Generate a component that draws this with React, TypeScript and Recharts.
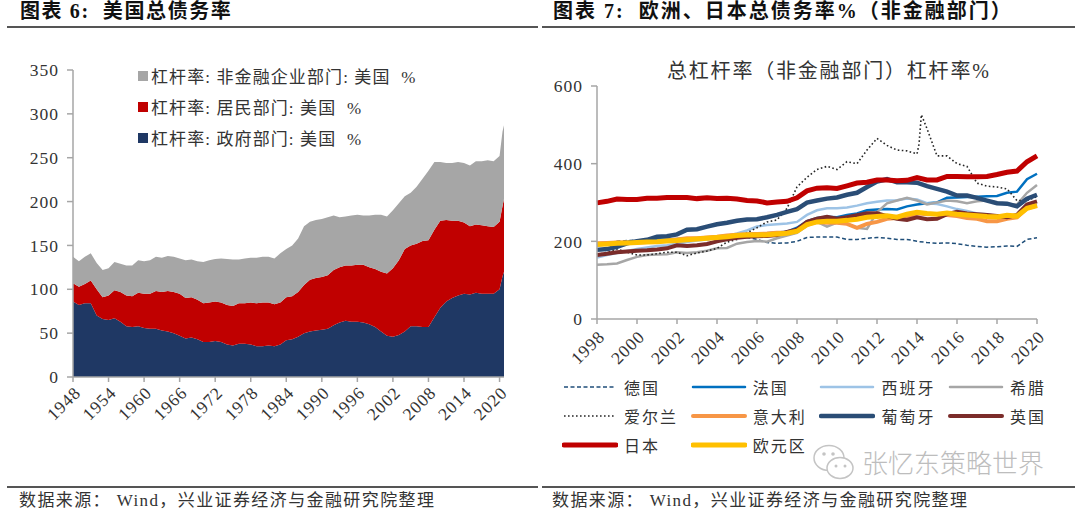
import { AreaChart, Area, LineChart, Line, XAxis, YAxis, Legend } from 'recharts'

const SERIF = '"Liberation Serif", "Noto Sans CJK SC", serif'
const AXIS_GREY = '#A6A6A6'

// 图表 6
const usYears = [
  1948, 1949, 1950, 1951, 1952, 1953, 1954, 1955, 1956, 1957, 1958, 1959, 1960, 1961, 1962, 1963, 1964, 1965, 1966,
  1967, 1968, 1969, 1970, 1971, 1972, 1973, 1974, 1975, 1976, 1977, 1978, 1979, 1980, 1981, 1982, 1983, 1984, 1985,
  1986, 1987, 1988, 1989, 1990, 1991, 1992, 1993, 1994, 1995, 1996, 1997, 1998, 1999, 2000, 2001, 2002, 2003, 2004,
  2005, 2006, 2007, 2008, 2009, 2010, 2011, 2012, 2013, 2014, 2015, 2016, 2017, 2018, 2019, 2020, 2020.5, 2020.75,
]
const usGov = [
  86, 82, 84, 84, 70, 66, 65, 67, 63, 58, 57, 58, 56, 55, 55, 53, 52, 50, 47,
  44, 45, 43, 40, 40, 41, 40, 37, 36, 38, 38, 37, 35, 35, 36, 35, 37, 42, 43,
  46, 50, 52, 53, 54, 55, 59, 62, 64, 63, 63, 62, 60, 57, 52, 47, 46, 48, 52,
  58, 58, 57, 57, 68, 79, 86, 90, 93, 95, 94, 96, 95, 95, 95, 100, 115, 120,
]
const usHousehold = [
  21, 21, 22, 26, 30, 25, 28, 32, 34, 35, 35, 38, 39, 40, 43, 44, 46, 47, 48,
  46, 46, 45, 44, 45, 45, 45, 45, 45, 46, 46, 48, 49, 50, 49, 48, 48, 49, 49,
  51, 55, 59, 60, 60, 61, 63, 63, 63, 64, 65, 66, 65, 66, 68, 71, 78, 85, 94,
  92, 94, 98, 99, 100, 99, 93, 88, 85, 81, 78, 78, 78, 77, 76, 77, 80, 83,
]
const usCorp = [
  30, 29, 31, 31, 30, 31, 31, 32, 32, 34, 35, 37, 37, 38, 39, 39, 40, 40, 40,
  43, 43, 44, 47, 48, 48.5, 50, 52.5, 53, 50, 51, 51, 52, 52, 52, 52, 56, 55, 58,
  61, 67, 66, 66, 66, 66, 62, 57, 56, 57, 57, 56, 59, 62, 65, 65, 66, 65, 60,
  60, 65, 71, 79, 77, 67, 65, 66, 67, 68, 69, 72, 73, 75, 75, 75, 85, 84,
]
const usYTicks = [0, 50, 100, 150, 200, 250, 300, 350]
const usXTicks = [1948, 1954, 1960, 1966, 1972, 1978, 1984, 1990, 1996, 2002, 2008, 2014, 2020]
const usLegendNames = ['杠杆率: 非金融企业部门: 美国  %', '杠杆率: 居民部门: 美国  %', '杠杆率: 政府部门: 美国  %']

// 图表 7
const euYears = [
  1998, 1998.5, 1999, 1999.5, 2000, 2000.5, 2001, 2001.5, 2002, 2002.5, 2003, 2003.5, 2004, 2004.5, 2005, 2005.5,
  2006, 2006.5, 2007, 2007.5, 2008, 2008.5, 2009, 2009.5, 2010, 2010.5, 2011, 2011.5, 2012, 2012.5, 2013, 2013.5,
  2014, 2014.5, 2015, 2015.5, 2016, 2016.5, 2017, 2017.5, 2018, 2018.5, 2019, 2019.5, 2020,
]
const germany = [
  195, 197, 200, 202, 203, 203, 203, 203, 202, 203, 204, 205, 206, 207, 208, 210,
  205, 197, 195, 196, 200, 210, 211, 211, 211, 205, 205, 208, 210, 208, 205, 205,
  200, 197, 195, 196, 194, 190, 187, 185, 186, 188, 187, 205, 209,
]
const france = [
  190, 192, 195, 198, 200, 202, 204, 205, 206, 207, 208, 210, 212, 214, 217, 219,
  220, 221, 223, 225, 235, 252, 260, 263, 262, 268, 272, 280, 282, 283, 282, 290,
  295, 298, 300, 312, 313, 314, 315, 316, 317, 325, 328, 360, 374,
]
const spain = [
  158, 165, 170, 175, 180, 184, 188, 190, 194, 198, 202, 205, 209, 214, 220, 228,
  238, 242, 244, 246, 250, 268, 280, 285, 285, 287, 292, 298, 302, 305, 306, 310,
  308, 298, 296, 290, 283, 278, 272, 270, 265, 265, 262, 285, 295,
]
const greece = [
  140, 141, 143, 152, 160, 165, 166, 167, 172, 170, 172, 176, 182, 183, 194, 198,
  201, 199, 208, 215, 222, 240, 250, 238, 248, 245, 235, 232, 275, 298, 305, 312,
  305, 295, 300, 305, 303, 298, 303, 305, 300, 295, 295, 325, 345,
]
const irelandYears = [
  1998, 1998.5, 1999, 1999.5, 2000, 2000.5, 2001, 2001.5, 2002, 2002.5, 2003, 2003.5, 2004, 2004.5, 2005, 2005.5,
  2006, 2006.5, 2007, 2007.5, 2008, 2008.5, 2009, 2009.5, 2010, 2010.5, 2011, 2011.5, 2012, 2012.5, 2013, 2013.5,
  2014, 2014.1, 2014.22, 2014.5, 2015, 2015.5, 2016, 2016.5, 2017, 2017.5, 2018, 2018.5, 2019, 2019.5, 2020,
]
const ireland = [
  165, 172, 180, 172, 165, 165, 168, 172, 172, 163, 170, 175, 182, 198, 205, 222,
  235, 250, 255, 285, 340, 365, 385, 393, 385, 405, 400, 435, 465, 447, 435, 433,
  425, 450, 526, 490, 420, 420, 400, 393, 350, 342, 340, 335, 305, 305, 315,
]
const italy = [
  195, 196, 197, 197, 197, 198, 199, 202, 205, 208, 208, 210, 212, 215, 217, 218,
  219, 220, 222, 223, 228, 243, 250, 248, 248, 245, 235, 245, 250, 258, 260, 262,
  272, 270, 270, 268, 265, 260, 258, 252, 252, 258, 262, 285, 292,
]
const portugal = [
  178, 180, 186, 195, 200, 204, 212, 213, 218, 230, 231, 238, 244, 248, 253, 256,
  257, 262, 268, 276, 283, 300, 305, 310, 313, 320, 325, 340, 354, 360, 352, 352,
  351, 342, 335, 328, 318, 318, 312, 305, 298, 297, 290, 310, 320,
]
const uk = [
  165, 168, 172, 174, 176, 177, 179, 182, 190, 188, 190, 193, 200, 205, 209, 212,
  213, 214, 216, 224, 230, 250, 258, 263, 258, 262, 267, 272, 272, 265, 258, 255,
  262, 257, 258, 270, 276, 272, 270, 268, 265, 262, 268, 295, 303,
]
const japan = [
  299, 303, 309, 308, 308, 311, 311, 313, 313, 313, 310, 312, 310, 311, 309, 305,
  304, 299, 301, 303, 312, 330, 337, 338, 336, 343, 350, 352, 358, 358, 356, 357,
  364, 358, 358, 367, 367, 366, 366, 367, 372, 378, 381, 405, 420,
]
const euroArea = [
  192, 193, 195, 196, 197, 198, 199, 201, 202, 204, 206, 208, 210, 212, 215, 216,
  216, 217, 219, 221, 226, 243, 250, 252, 252, 254, 257, 262, 264, 266, 262, 270,
  275, 272, 270, 273, 270, 268, 266, 264, 263, 267, 265, 285, 292,
]
const euYTicks = [0, 200, 400, 600]
const euXTicks = [1998, 2000, 2002, 2004, 2006, 2008, 2010, 2012, 2014, 2016, 2018, 2020]
const euNames = ['德国', '法国', '西班牙', '希腊', '爱尔兰', '意大利', '葡萄牙', '英国', '日本', '欧元区']

const usRows = usYears.map((year, i) => ({ year, gov: usGov[i], household: usHousehold[i], corp: usCorp[i] }))
const euRows = euYears.map((year, i) => ({
  year,
  germany: germany[i],
  france: france[i],
  spain: spain[i],
  greece: greece[i],
  italy: italy[i],
  portugal: portugal[i],
  uk: uk[i],
  japan: japan[i],
  euroArea: euroArea[i],
}))
const irelandRows = irelandYears.map((year, i) => ({ year, ireland: ireland[i] }))

const SOURCE_TEXT = '数据来源\uFF1A Wind\uFF0C兴业证券经济与金融研究院整理'

const tickStyle = { fontFamily: SERIF, fontSize: 17.5, fill: '#333', letterSpacing: 1 }

const UsLegend = ({ payload }: any) => {
  const items = [...(payload || [])].sort((a, b) => usLegendNames.indexOf(a.value) - usLegendNames.indexOf(b.value))
  return (
    <div>
      {items.map((entry: any) => (
        <div key={entry.value} style={{ display: 'flex', alignItems: 'center', height: 31, whiteSpace: 'pre' }}>
          <span style={{ width: 10, height: 10, background: entry.color, marginRight: 3 }} />
          <span style={{ fontFamily: SERIF, fontSize: 17, letterSpacing: 1.1, color: '#333' }}>{entry.value}</span>
        </div>
      ))}
    </div>
  )
}

const EuLegend = ({ payload }: any) => {
  const items = [...(payload || [])].sort((a, b) => euNames.indexOf(a.value) - euNames.indexOf(b.value))
  return (
    <div style={{ display: 'grid', gridTemplateColumns: 'repeat(4, 128.7px)', gridAutoRows: 29 }}>
      {items.map((entry: any) => (
        <div key={entry.value} style={{ display: 'flex', alignItems: 'center' }}>
          <svg width={56} height={10} style={{ marginRight: 6 }}>
            <line
              x1={2}
              y1={5}
              x2={54}
              y2={5}
              stroke={entry.color}
              strokeWidth={entry.payload?.strokeWidth}
              strokeDasharray={entry.payload?.strokeDasharray}
              strokeLinecap={entry.payload?.strokeDasharray ? 'butt' : 'round'}
            />
          </svg>
          <span style={{ fontFamily: SERIF, fontSize: 16, letterSpacing: 2, color: '#333' }}>{entry.value}</span>
        </div>
      ))}
    </div>
  )
}

const Heading = ({ left, top, size, bold, spacing, children }: any) => (
  <div
    style={{
      position: 'absolute',
      left,
      top,
      fontFamily: SERIF,
      fontSize: size,
      fontWeight: bold ? 700 : 400,
      color: bold ? '#111' : '#333',
      letterSpacing: spacing,
      whiteSpace: 'pre',
      lineHeight: 1,
    }}
  >
    {children}
  </div>
)

const Rule = ({ left, top, width }: any) => (
  <div style={{ position: 'absolute', left, top, width, height: 1.5, background: '#555' }} />
)

export default function App() {
  return (
    <div style={{ position: 'absolute', left: 0, top: 0, width: 1080, height: 511, background: '#fff', overflow: 'hidden' }}>
      <Heading left={20} top={1} size={20} bold spacing={1.6}>{'图表 6:  美国总债务率'}</Heading>
      <Heading left={553} top={1} size={20} bold spacing={2}>{'图表 7:  欧洲、日本总债务率%（非金融部门）'}</Heading>
      <Rule left={7} top={26} width={531} />
      <Rule left={542} top={26} width={533} />

      <div style={{ position: 'absolute', left: 0, top: 50 }}>
        <AreaChart width={540} height={390} data={usRows} margin={{ top: 20, right: 36, bottom: 0, left: 0 }}>
          <XAxis
            dataKey="year"
            type="number"
            domain={[1948, 2020.75]}
            ticks={usXTicks}
            interval={0}
            height={63}
            angle={-45}
            textAnchor="end"
            tick={tickStyle}
            tickSize={5}
            tickMargin={3}
            stroke={AXIS_GREY}
            strokeWidth={1.5}
          />
          <YAxis
            type="number"
            domain={[0, 350]}
            ticks={usYTicks}
            interval={0}
            width={73}
            tick={tickStyle}
            tickSize={6}
            tickMargin={8}
            stroke={AXIS_GREY}
            strokeWidth={1.5}
          />
          <Legend
            layout="vertical"
            align="center"
            verticalAlign="middle"
            wrapperStyle={{ left: 138, top: 10, width: 320 }}
            content={<UsLegend />}
          />
          <Area dataKey="gov" name={usLegendNames[2]} stackId="us" type="linear" stroke="none" fill="#1F3864" fillOpacity={1} isAnimationActive={false} />
          <Area dataKey="household" name={usLegendNames[1]} stackId="us" type="linear" stroke="none" fill="#C00000" fillOpacity={1} isAnimationActive={false} />
          <Area dataKey="corp" name={usLegendNames[0]} stackId="us" type="linear" stroke="none" fill="#A6A6A6" fillOpacity={1} isAnimationActive={false} />
        </AreaChart>
      </div>

      <div style={{ position: 'absolute', left: 667, top: 61, fontFamily: SERIF, fontSize: 20, letterSpacing: 1.8, color: '#333', lineHeight: 1 }}>
        总杠杆率（非金融部门）杠杆率%
      </div>

      <div style={{ position: 'absolute', left: 540, top: 60 }}>
        <LineChart width={540} height={410} data={euRows} margin={{ top: 26, right: 43, bottom: 0, left: 0 }}>
          <XAxis
            dataKey="year"
            type="number"
            domain={[1998, 2020]}
            ticks={euXTicks}
            interval={0}
            height={151}
            angle={-45}
            textAnchor="end"
            tick={tickStyle}
            tickSize={5}
            tickMargin={5}
            stroke={AXIS_GREY}
            strokeWidth={1.5}
          />
          <YAxis
            type="number"
            domain={[0, 600]}
            ticks={euYTicks}
            interval={0}
            width={57}
            tick={tickStyle}
            tickSize={6}
            tickMargin={8}
            stroke={AXIS_GREY}
            strokeWidth={1.5}
          />
          <Legend
            layout="vertical"
            align="center"
            verticalAlign="middle"
            wrapperStyle={{ left: 22, top: 312, width: 516 }}
            content={<EuLegend />}
          />
          <Line dataKey="germany" name={euNames[0]} stroke="#1F4E79" strokeWidth={1.5} strokeDasharray="4 2.5" dot={false} isAnimationActive={false} />
          <Line dataKey="france" name={euNames[1]} stroke="#0070C0" strokeWidth={2.5} dot={false} isAnimationActive={false} />
          <Line dataKey="spain" name={euNames[2]} stroke="#9DC3E6" strokeWidth={2.5} dot={false} isAnimationActive={false} />
          <Line dataKey="greece" name={euNames[3]} stroke="#A6A6A6" strokeWidth={2.5} dot={false} isAnimationActive={false} />
          <Line data={irelandRows} dataKey="ireland" name={euNames[4]} stroke="#262626" strokeWidth={1.6} strokeDasharray="1.6 2.4" dot={false} isAnimationActive={false} />
          <Line dataKey="italy" name={euNames[5]} stroke="#F79646" strokeWidth={4} dot={false} isAnimationActive={false} />
          <Line dataKey="portugal" name={euNames[6]} stroke="#2A4D76" strokeWidth={4.5} dot={false} isAnimationActive={false} />
          <Line dataKey="uk" name={euNames[7]} stroke="#7B2C2A" strokeWidth={4} dot={false} isAnimationActive={false} />
          <Line dataKey="japan" name={euNames[8]} stroke="#C00000" strokeWidth={5} dot={false} isAnimationActive={false} />
          <Line dataKey="euroArea" name={euNames[9]} stroke="#FFC000" strokeWidth={5} dot={false} isAnimationActive={false} />
        </LineChart>
      </div>

      <svg width={44} height={40} style={{ position: 'absolute', left: 812, top: 443 }}>
        <ellipse cx={17} cy={15} rx={15} ry={12.5} fill="#fff" stroke="#C4C4C4" strokeWidth={1.5} />
        <ellipse cx={28} cy={25} rx={13} ry={10.5} fill="#fff" stroke="#C4C4C4" strokeWidth={1.5} />
        <circle cx={12} cy={11} r={1.8} fill="#C4C4C4" />
        <circle cx={21} cy={11} r={1.8} fill="#C4C4C4" />
        <circle cx={24} cy={23} r={1.5} fill="#C4C4C4" />
        <circle cx={33} cy={23} r={1.5} fill="#C4C4C4" />
      </svg>
      <div style={{ position: 'absolute', left: 862, top: 449, fontFamily: '"Noto Sans CJK SC"', fontSize: 26, color: '#BDBDBD', lineHeight: 1, fontWeight: 300 }}>
        张忆东策略世界
      </div>

      <Rule left={7} top={486} width={531} />
      <Rule left={542} top={486} width={533} />
      <Heading left={19} top={492} size={17} spacing={1.4}>{SOURCE_TEXT}</Heading>
      <Heading left={552} top={492} size={17} spacing={1.4}>{SOURCE_TEXT}</Heading>
    </div>
  )
}
